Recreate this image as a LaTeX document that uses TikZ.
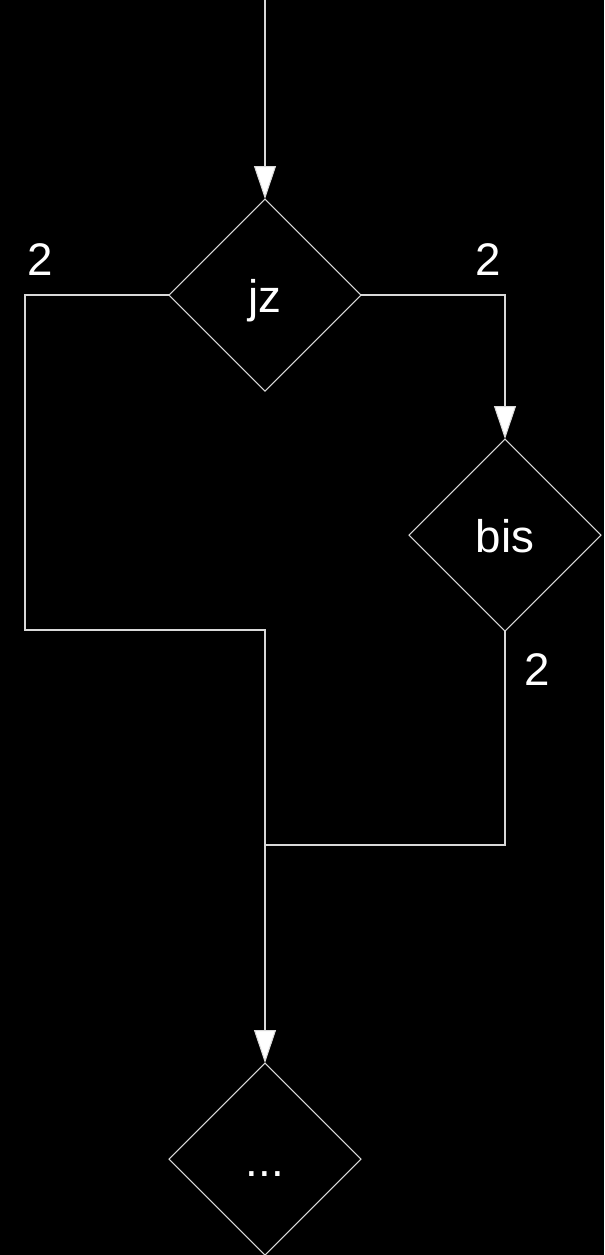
\documentclass[tikz,border=0pt]{standalone}
\usepackage{fontspec}
\setmainfont{Liberation Sans}
\usetikzlibrary{positioning,shapes.geometric,arrows.meta,calc}

\begin{document}
\begin{tikzpicture}[
    cond/.style={diamond, draw=white!85!black, line width=0.6pt, text=white, minimum width=3.84cm, minimum height=3.84cm, inner sep=0pt, outer sep=0pt, text height=0.88cm, text depth=0.2cm, font=\fontsize{26}{30}\selectfont},
    edge/.style={draw=white!85!black, line width=0.6pt},
    arrow/.style={edge, -{Triangle[width=0.44cm, length=0.66cm, fill=white]}},
    count/.style={text=white, font=\fontsize{26}{30}\selectfont}
]

% background
\fill[black] (0,0) rectangle (12.08,-25.1);
\useasboundingbox (0,0) rectangle (12.08,-25.1);

\coordinate (start) at (5.3,0);
\node[cond] (jz) at (5.3,-5.9) {jz};
\node[cond] (bis) at (10.1,-10.7) {bis};
\node[cond] (next) at (5.3,-23.18) {...};

\coordinate (merge) at (5.3,-16.9);

\draw[arrow] (start) -- (jz.north);
\draw[arrow] (jz.east) -| (bis.north);
\draw[edge] (jz.west) -- (0.5,-5.9) -- (0.5,-12.6) -- (5.3,-12.6) -- (merge);
\draw[edge] (bis.south) |- (merge);
\draw[arrow] (merge) -- (next.north);

\node[count] (c1) at (0.8,-5.2) {2};
\node[count] (c2) at (9.76,-5.2) {2};
\node[count] (c3) at (10.74,-13.4) {2};

\end{tikzpicture}
\end{document}
